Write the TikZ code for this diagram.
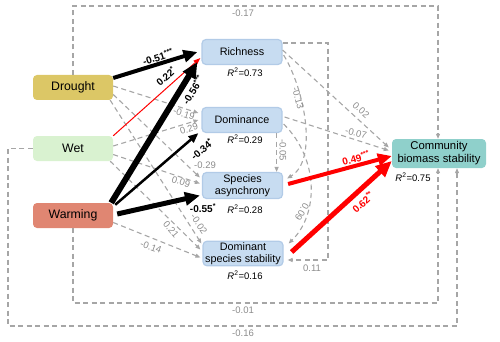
\documentclass[tikz,border=0pt]{standalone}
\usepackage{fontspec}
\setmainfont{Liberation Sans}
\usetikzlibrary{arrows.meta,calc}
\definecolor{drc}{HTML}{DCC766}
\definecolor{wetc}{HTML}{D9F2D0}
\definecolor{warmc}{HTML}{E08672}
\definecolor{medc}{HTML}{C7DCF1}
\definecolor{medb}{HTML}{B2CBE7}
\definecolor{commc}{HTML}{8FD0CB}
\definecolor{dashc}{HTML}{A6A6A6}
\definecolor{labc}{HTML}{8C8C8C}
\begin{document}
\begin{tikzpicture}[x=1pt,y=-1pt,
 box/.style={rounded corners=4pt, minimum width=80pt, minimum height=25pt, inner sep=1pt, align=center, font=\fontsize{10.8}{12.5}\selectfont},
 drvbox/.style={box, font=\fontsize{12.3}{14}\selectfont},
 medbox/.style={box, fill=medc, draw=medb, line width=1.2pt},
 gdash/.style={draw=dashc, line width=1.1pt, dash pattern=on 5pt off 3.5pt, -{Triangle[length=5pt,width=4pt]}},
 glab/.style={text=labc, font=\fontsize{9.5}{10}\selectfont, inner sep=0pt},
 blab/.style={font=\bfseries\fontsize{10}{11}\selectfont, inner sep=0pt},
 rlab/.style={blab, text=red},
 rsq/.style={font=\fontsize{9.5}{10}\selectfont, inner sep=0pt},
]
\useasboundingbox (0,0) rectangle (500,342);

% nodes
\node[drvbox, fill=drc] (drought) at (73,87.5) {Drought};
\node[drvbox, fill=wetc] (wet) at (73,148.5) {Wet};
\node[drvbox, fill=warmc] (warm) at (73,215.5) {Warming};
\node[medbox] (rich) at (242,52) {Richness};
\node[medbox] (dom) at (242,120) {Dominance};
\node[medbox, minimum height=26pt] (async) at (242.5,185.5) {Species\\asynchrony};
\node[medbox, minimum height=24pt] (dstab) at (243,253.5) {Dominant\\species stability};
\node[box, fill=commc, minimum width=94pt, minimum height=29pt, font=\fontsize{11.3}{13}\selectfont] (comm) at (439,153.5) {Community\\biomass stability};

\node[rsq] (r1) at (245,72.5) {\textit{R}\textsuperscript{2}=0.73};
\node[rsq] (r2) at (245,139) {\textit{R}\textsuperscript{2}=0.29};
\node[rsq] (r3) at (245,209) {\textit{R}\textsuperscript{2}=0.28};
\node[rsq] (r4) at (245,275) {\textit{R}\textsuperscript{2}=0.16};
\node[rsq] (r5) at (413,177) {\textit{R}\textsuperscript{2}=0.75};

% helper coordinates
\coordinate (ytop) at (0,6);
\coordinate (ybot1) at (0,303);
\coordinate (ybot2) at (0,326);
\coordinate (xl) at (8,0);
\coordinate (xr) at (328,0);
\coordinate (c1) at ([xshift=-1pt]comm.north);
\coordinate (c2) at ([xshift=4pt,yshift=-6.5pt]dstab.east);
\coordinate (c3) at ([xshift=-1pt]comm.south);
\coordinate (c4) at ([xshift=18pt]comm.south);
\coordinate (dv) at ([xshift=-6pt]dom.south east);

% dashed loops
\draw[gdash] (drought.north) |- (c1 |- ytop) -- (c1);
\draw[gdash] ([yshift=9pt]rich.east) -| (xr |- c2) -- (c2);
\draw[gdash] (warm.south) |- (c3 |- ybot1) -- (c3);
\draw[gdash] (wet.west) -| (xl |- ybot2) -- (c4 |- ybot2) -- (c4);
\node[glab] (l17) at (243,13) {-0.17};
\node[glab] (l11) at (312,268) {0.11};
\node[glab] (l01) at (243,310) {-0.01};
\node[glab] (l16) at (243,333) {-0.16};

% dashed drivers -> mediators
\draw[gdash] ([yshift=1.5pt]drought.east) -- ([xshift=-3pt,yshift=7pt]dom.west);
\draw[gdash] ([yshift=2.5pt]wet.east) -- ([xshift=-3pt]dom.west);
\draw[gdash] ([yshift=-7pt]drought.east) -- ([xshift=-2pt,yshift=8pt]async.west);
\draw[gdash] ([yshift=-6pt]wet.east) -- ([xshift=-2pt,yshift=2pt]async.west);
\draw[gdash] ([xshift=-3pt]drought.south east) -- ([xshift=-1pt,yshift=10pt]dstab.west);
\draw[gdash] ([xshift=-3pt]wet.south east) -- ([xshift=-2pt,yshift=4pt]dstab.west);
\draw[gdash] ([yshift=-7pt]warm.east) -- ([xshift=-2pt,yshift=-4pt]dstab.west);
\node[glab, rotate=-18] (l19) at (184,114) {-0.19};
\node[glab, rotate=17] (l29) at (189,129) {0.29};
\node[glab] (lm29) at (205,165) {-0.29};
\node[glab, rotate=-17] (l09) at (181,182) {0.09};
\node[glab, rotate=-56] (l02) at (199,224) {-0.02};
\node[glab, rotate=-50] (l21) at (171,229) {0.21};
\node[glab, rotate=-20] (l14) at (151,247) {-0.14};

% mediator -> mediator / community dashed
\draw[gdash] ([yshift=2pt]rich.east) -- ([xshift=-3pt,yshift=6pt]comm.west);
\draw[gdash] ([xshift=2pt,yshift=3pt]dom.east) -- ([xshift=-3pt,yshift=3pt]comm.west);
\draw[gdash] ([xshift=1pt,yshift=-3pt]rich.east) .. controls (305,90) and (318,160) .. ([xshift=4pt,yshift=7pt]async.east);
\draw[gdash] ([xshift=1pt,yshift=-4pt]dom.east) .. controls (320,160) and (318,215) .. ([xshift=5pt,yshift=10pt]dstab.east);
\draw[gdash] (dv) -- (dv |- async.north);
\node[glab, rotate=-42] (l002) at (361,110) {0.02};
\node[glab, rotate=-15] (l007) at (356,133) {-0.07};
\node[glab, rotate=-75] (l013) at (298,98) {-0.13};
\node[glab, rotate=-90] (l005) at (283,150) {-0.05};
\node[glab, rotate=240] (l009) at (302,212) {0.09};

% significant paths
\draw[line width=4pt, -{Triangle[length=14pt,width=12pt]}] ([yshift=9.5pt]drought.east) -- ([xshift=-4pt]rich.west);
\draw[red, line width=1pt, -{Triangle[length=7pt,width=5pt]}] (wet.north east) -- ([xshift=-1pt,yshift=-6pt]rich.west);
\draw[line width=6pt, -{Triangle[length=16pt,width=14pt]}] ([xshift=-2pt]warm.north east) -- ([xshift=-4pt,yshift=-10pt]rich.west);
\draw[line width=2.5pt, -{Triangle[length=10pt,width=8pt]}] ([xshift=2pt,yshift=-2pt]warm.north east) -- ([xshift=-3pt]dom.south west);
\draw[line width=5pt, -{Triangle[length=15pt,width=13pt]}] ([xshift=4pt,yshift=1.5pt]warm.east) -- ([xshift=-2pt,yshift=-10pt]async.west);
\draw[red, line width=4pt, -{Triangle[length=14pt,width=12pt]}] ([xshift=5pt,yshift=1.5pt]async.east) -- ([yshift=-2.5pt]comm.west);
\draw[red, line width=5pt, -{Triangle[length=16pt,width=14pt]}] ([xshift=8pt,yshift=1.5pt]dstab.east) -- ([yshift=-7.5pt]comm.west);

\node[blab, rotate=17] (s51) at (158,57) {-0.51\textsuperscript{***}};
\node[blab, rotate=41] (s22) at (166,76) {0.22\textsuperscript{*}};
\node[blab, rotate=58] (s56) at (193,90) {-0.56\textsuperscript{***}};
\node[blab, rotate=40] (s34) at (202,149) {-0.34\textsuperscript{*}};
\node[blab] (s55) at (203,208) {-0.55\textsuperscript{*}};
\node[rlab, rotate=15] (s49) at (356,158) {0.49\textsuperscript{***}};
\node[rlab, rotate=42] (s62) at (363,202) {0.62\textsuperscript{**}};
\end{tikzpicture}
\end{document}
